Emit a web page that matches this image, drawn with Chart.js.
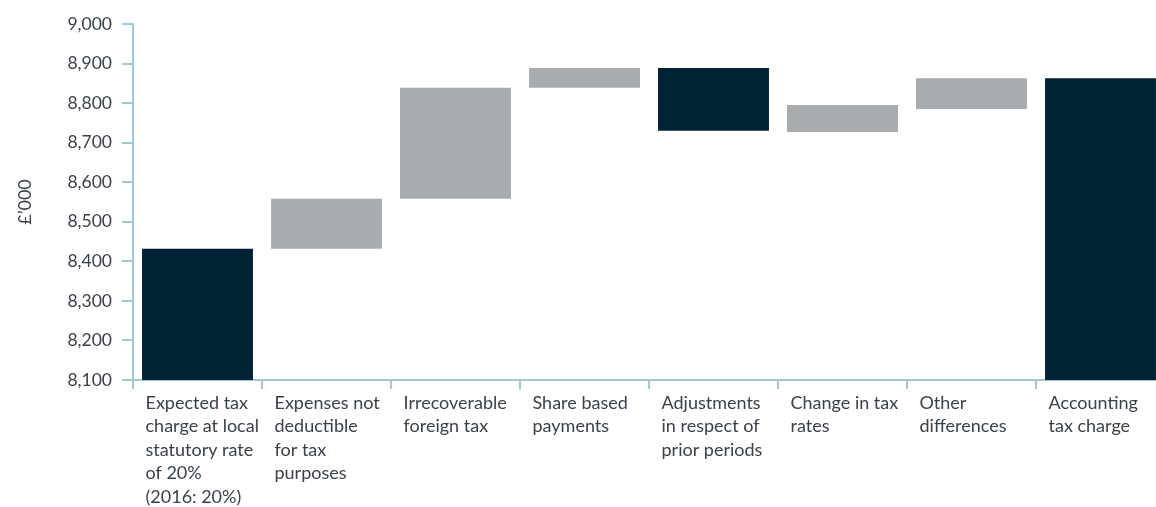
<!DOCTYPE html>
<html lang="en">
<head>
    <meta charset="UTF-8">
    <title>Tax charge reconciliation</title>
    <script src="https://cdn.jsdelivr.net/npm/chart.js"></script>
    <style>
        html, body {
            margin: 0;
            padding: 0;
            background: #ffffff;
            overflow: hidden;
        }
        .wrap {
            width: 1166px;
            height: 507px;
        }
    </style>
</head>
<body>
    <div class="wrap">
        <canvas id="myChart"></canvas>
    </div>
    <script>
        // category labels (multi-line, as in the report)
        const categories = [
            ['Expected tax', 'charge at local', 'statutory rate', 'of 20%', '(2016: 20%)'],
            ['Expenses not', 'deductible', 'for tax', 'purposes'],
            ['Irrecoverable', 'foreign tax'],
            ['Share based', 'payments'],
            ['Adjustments', 'in respect of', 'prior periods'],
            ['Change in tax', 'rates'],
            ['Other', 'differences'],
            ['Accounting', 'tax charge']
        ];
        // waterfall: bottom and top of each floating bar (£'000)
        const barStart = [8100, 8432, 8558, 8839, 8730, 8727, 8785, 8100];
        const barEnd   = [8432, 8558, 8839, 8889, 8889, 8795, 8863, 8863];
        const isDark   = [true, false, false, false, true, false, false, true];

        const yMin = 8100;
        const yMax = 9000;
        const yStep = 100;

        const darkBlue = '#012235';
        const grey = '#a9acaf';
        const axisBlue = '#a3c6d4';
        const textColor = '#3a414d';

        const ctx = document.getElementById('myChart').getContext('2d');
        const myChart = new Chart(ctx, {
            type: 'bar',
            data: {
                labels: categories,
                datasets: [{
                    data: barStart.map((s, i) => [s, barEnd[i]]),
                    backgroundColor: isDark.map(d => d ? darkBlue : grey),
                    borderWidth: 0,
                    categoryPercentage: 1,
                    barPercentage: 0.86
                }]
            },
            options: {
                responsive: true,
                maintainAspectRatio: false,
                animation: false,
                layout: {
                    padding: { top: 24, right: 1, left: 0, bottom: 0 }
                },
                plugins: {
                    legend: { display: false },
                    tooltip: { enabled: false }
                },
                scales: {
                    x: {
                        afterFit: (s) => {
                            s.height = 127;
                            // labels are left-aligned, no extra side padding needed
                            s.paddingLeft = 0;
                            s.paddingRight = 0;
                        },
                        border: { color: axisBlue, width: 2 },
                        grid: {
                            offset: true,
                            drawOnChartArea: false,
                            drawTicks: true,
                            tickLength: 9,
                            color: axisBlue,
                            lineWidth: 2
                        },
                        ticks: {
                            autoSkip: false,
                            maxRotation: 0,
                            align: 'start',
                            labelOffset: -52,
                            padding: 2,
                            color: textColor,
                            font: { family: 'Lato', size: 18, lineHeight: 1.31 }
                        }
                    },
                    y: {
                        min: yMin,
                        max: yMax,
                        afterFit: (s) => { s.width = 133; },
                        border: { color: axisBlue, width: 2 },
                        grid: {
                            drawOnChartArea: false,
                            drawTicks: true,
                            tickLength: 11,
                            color: axisBlue,
                            lineWidth: 2
                        },
                        ticks: {
                            stepSize: yStep,
                            padding: 10,
                            color: textColor,
                            font: { family: 'Lato', size: 17.5 }
                        },
                        title: {
                            display: true,
                            text: '£\u2019000',
                            color: textColor,
                            padding: { top: 14, bottom: 0 },
                            font: { family: 'Lato', size: 18 }
                        }
                    }
                }
            }
        });
    </script>
</body>
</html>
